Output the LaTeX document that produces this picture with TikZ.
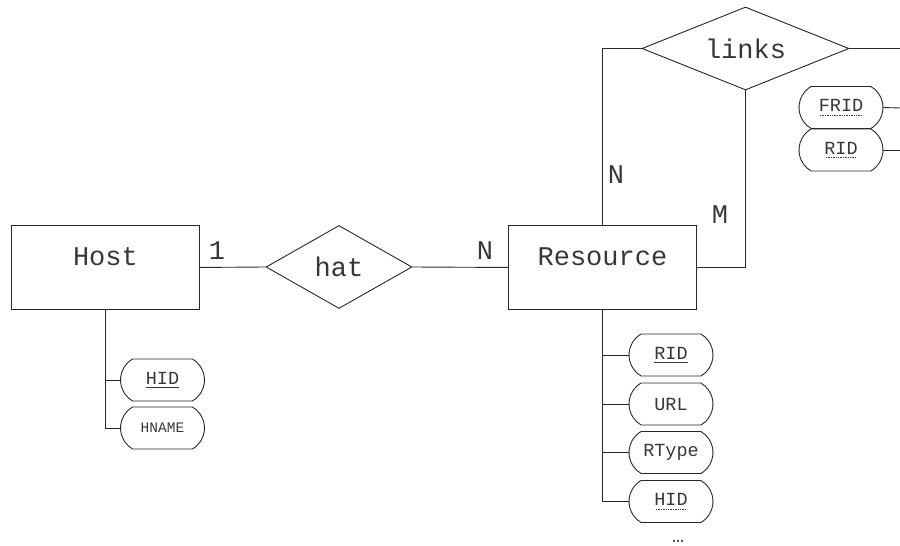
\documentclass[tikz,border=0pt]{standalone}
\usepackage{fontspec}
\setmonofont{Liberation Mono}
\usetikzlibrary{shapes.geometric,shapes.misc}
\newcommand\solidul[1]{\setbox0\hbox{#1}\rlap{\copy0}\raisebox{-3.5pt}{\hbox to \wd0{\leaders\hrule height 0.8pt\hfill}}}
\newcommand\dotul[1]{\setbox0\hbox{#1}\rlap{\copy0}\raisebox{-3.5pt}{\hbox to \wd0{\cleaders\hbox to 2.4pt{\hss\vrule width 1.4pt height 0.8pt\hss}\hfill}}}
\definecolor{ink}{RGB}{40,40,40}
\definecolor{txt}{RGB}{55,55,55}
\tikzset{
  line/.style={draw=ink, line width=0.9pt},
  entity/.style={line, rectangle, inner sep=0pt, minimum width=188pt, text height=40pt, text depth=44pt, font=\ttfamily\fontsize{27}{27}\selectfont, text=txt},
  relation/.style={line, diamond, inner sep=0pt, font=\ttfamily\fontsize{27}{27}\selectfont, text=txt},
  attr/.style={line, rounded rectangle, rounded rectangle arc length=120, inner sep=0pt, minimum width=84pt, minimum height=42pt, font=\ttfamily\fontsize{18.5}{18.5}\selectfont, text=txt},
  card/.style={font=\ttfamily\fontsize{27}{27}\selectfont, text=txt, inner sep=0pt}
}
\begin{document}
\begin{tikzpicture}[x=1pt,y=-1pt]
\useasboundingbox (0,0) rectangle (900,546);
% entities
\node[entity, anchor=north west] (host) at (11,225) {Host};
\node[entity, anchor=north west] (res) at (508,225) {Resource};
% relations
\node[relation, shape aspect=1.76, minimum width=146pt, minimum height=83pt] (hat) at (339,267) {hat};
\node[relation, shape aspect=2.5, minimum width=207pt, minimum height=83pt] (links) at (745.5,48.5) {links};
% connectors
\draw[line] (host.east) -- (hat.west);
\draw[line] (hat.east) -- (res.west);
\draw[line] (res.north) |- (links.west);
\draw[line] (links.south) |- (res.east);
\coordinate (lout) at (900,48.5);
\draw[line] (links.east) -- (lout);
% cardinalities
\node[card] (c1) at (217,251) {1};
\node[card] (c2) at (485,251) {N};
\node[card] (c3) at (616,175) {N};
\node[card] (c4) at (720,215) {M};
% Host attributes
\node[attr] (hhid) at (162.5,380) {\solidul{HID}};
\node[attr, font=\ttfamily\fontsize{14.5}{14.5}\selectfont] (hname) at (162.5,428) {HNAME};
\draw[line] (host.south) |- (hhid.west);
\draw[line] (host.south) |- (hname.west);
% Resource attributes
\node[attr] (rrid) at (671,355) {\solidul{RID}};
\node[attr] (rurl) at (671,404) {URL};
\node[attr] (rtype) at (671,452.5) {RType};
\node[attr] (rhid) at (671,501.5) {\dotul{HID}};
\draw[line] (res.south) |- (rrid.west);
\draw[line] (res.south) |- (rurl.west);
\draw[line] (res.south) |- (rtype.west);
\draw[line] (res.south) |- (rhid.west);
\node[card, font=\ttfamily\fontsize{20}{20}\selectfont] (dots) at (678,541) {…};
% links attributes
\node[attr] (frid) at (841,107.5) {\dotul{FRID}};
\node[attr] (lrid) at (841,150) {\dotul{RID}};
\coordinate (fout) at (900,108);
\coordinate (rout) at (900,150);
\draw[line] (frid.east) -- (fout);
\draw[line] (lrid.east) -- (rout);
\end{tikzpicture}
\end{document}
